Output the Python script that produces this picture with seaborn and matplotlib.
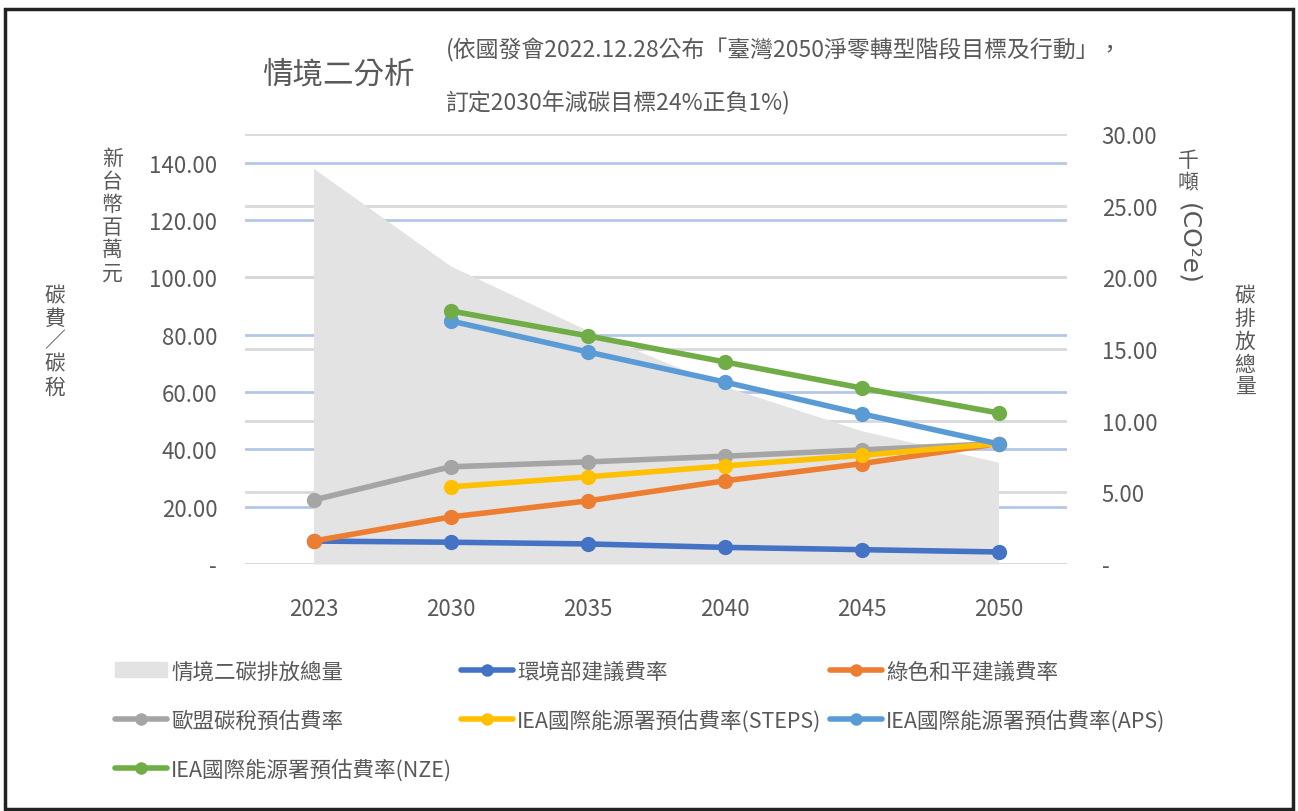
import numpy as np
import pandas as pd
import matplotlib
matplotlib.use("Agg")
import matplotlib.pyplot as plt
import seaborn as sns
from matplotlib.lines import Line2D
from matplotlib.patches import Patch, Rectangle

# data
years = ["2023", "2030", "2035", "2040", "2045", "2050"]
emission = [27.6, 20.8, 16.3, 12.4, 9.3, 7.1]          # 千噸(CO2e), right axis
moenv = [8.0, 7.6, 7.0, 5.8, 5.0, 4.2]                 # 環境部建議費率
greenpeace = [8.0, 16.4, 22.0, 29.0, 35.0, 42.0]        # 綠色和平建議費率
eu_cbam = [22.3, 33.9, 35.6, 37.6, 39.8, 42.0]          # 歐盟碳稅預估費率
iea_steps = [np.nan, 26.9, 30.4, 34.2, 37.9, 42.0]
iea_aps = [np.nan, 84.8, 74.0, 63.5, 52.4, 41.9]
iea_nze = [np.nan, 88.3, 79.6, 70.5, 61.4, 52.7]

series_names = ["環境部建議費率", "綠色和平建議費率", "歐盟碳稅預估費率",
                "IEA國際能源署預估費率(STEPS)", "IEA國際能源署預估費率(APS)",
                "IEA國際能源署預估費率(NZE)"]
series_vals = [moenv, greenpeace, eu_cbam, iea_steps, iea_aps, iea_nze]
colors = ["#4472C4", "#ED7D31", "#A5A5A5", "#FFC000", "#5B9BD5", "#70AD47"]
area_name = "情境二碳排放總量"

rows = []
for name, vals in zip(series_names, series_vals):
    for i, v in enumerate(vals):
        if not np.isnan(v):
            rows.append((i, name, v))
df = pd.DataFrame(rows, columns=["pos", "series", "value"])

sns.set_style("white")
plt.rcParams["font.family"] = ["Noto Sans CJK TC", "DejaVu Sans"]
txt = "#595959"

fig = plt.figure(figsize=(12.98, 8.12), dpi=100)
rect = [245 / 1298, 1 - 565 / 812, (1067 - 245) / 1298, (565 - 135) / 812]

# background axis for the left-scale gridlines
ax_bg = fig.add_axes(rect)
ax_bg.set_ylim(0, 150)
ax_bg.set_xlim(-0.5, 5.5)
ax_bg.set_yticks(range(20, 141, 20))
ax_bg.yaxis.grid(True, color="#B4C7E7", lw=2)
ax_bg.tick_params(left=False, labelleft=False, bottom=False, labelbottom=False)
for s in ax_bg.spines.values():
    s.set_visible(False)

# right axis: emission area
ax2 = fig.add_axes(rect, sharex=ax_bg)
ax2.patch.set_visible(False)
x = np.arange(len(years))
ax2.fill_between(x, emission, color="#E3E3E3", lw=0, zorder=2)
ax2.set_ylim(0, 30)
ax2.yaxis.tick_right()
ax2.set_yticks(np.arange(0, 31, 5))
ax2.set_yticklabels(["-"] + [f"{v:.2f}" for v in np.arange(5, 31, 5)])
ax2.yaxis.grid(True, color="#D9D9D9", lw=2, zorder=0)
ax2.set_axisbelow(True)
ax2.tick_params(axis="y", length=0, pad=25, labelsize=16, labelcolor=txt)
ax2.tick_params(axis="x", bottom=False, labelbottom=False)
for s in ax2.spines.values():
    s.set_visible(False)
ax2.axhline(0, color="#D9D9D9", lw=2, zorder=1)

# left axis: carbon fee lines
ax = fig.add_axes(rect, sharex=ax_bg)
ax.patch.set_visible(False)
sns.lineplot(data=df, x="pos", y="value", hue="series", hue_order=series_names,
             palette=colors, marker="o", markersize=11, markeredgewidth=0,
             linewidth=4, ax=ax, legend=False)
ax.set_ylim(0, 150)
ax.set_xlim(-0.5, 5.5)
ax.set_yticks(range(0, 141, 20))
ax.set_yticklabels(["-"] + [f"{v:.2f}" for v in range(20, 141, 20)])
ax.set_xticks(x)
ax.set_xticklabels(years)
ax.set_xlabel("")
ax.set_ylabel("")
ax.tick_params(axis="y", length=0, pad=20, labelsize=16, labelcolor=txt)
ax.tick_params(axis="x", length=0, pad=24, labelsize=16, labelcolor=txt)
for s in ax.spines.values():
    s.set_visible(False)

# titles
fig.text(262 / 1298, 1 - 75 / 812, "情境二分析", fontsize=22, color=txt, va="center")
fig.text(446 / 1298, 1 - 50 / 812,
         "(依國發會2022.12.28公布「臺灣2050淨零轉型階段目標及行動」，",
         fontsize=16.5, color=txt, va="center")
fig.text(446 / 1298, 1 - 103 / 812, "訂定2030年減碳目標24%正負1%)",
         fontsize=16.5, color=txt, va="center")

# axis titles (vertical stacked text)
fig.text(112 / 1298, 1 - 148 / 812, "\n".join("新台幣百萬元"), fontsize=15,
         color=txt, ha="center", va="top", linespacing=1.05)
fig.text(55 / 1298, 1 - 285 / 812, "\n".join("碳費／碳稅"), fontsize=15,
         color=txt, ha="center", va="top", linespacing=1.05)
fig.text(1188 / 1298, 1 - 150 / 812, "\n".join("千噸"), fontsize=15,
         color=txt, ha="center", va="top", linespacing=1.0)
fig.text(1188 / 1298, 1 - 203 / 812, "(CO²e)", fontsize=18, color=txt,
         ha="center", va="top", rotation=-90,
         family=["DejaVu Sans"])
fig.text(1245 / 1298, 1 - 285 / 812, "\n".join("碳排放總量"), fontsize=15,
         color=txt, ha="center", va="top", linespacing=1.05)

# legend
handles = [Patch(color="#E3E3E3")]
for c in colors:
    handles.append(Line2D([], [], color=c, lw=4, marker="o", markersize=9,
                          markeredgewidth=0))
labels = [area_name] + series_names
order = [0, 3, 6, 1, 4, 2, 5]
leg = fig.legend([handles[i] for i in order], [labels[i] for i in order],
                 ncol=3, loc="upper left", bbox_to_anchor=(96 / 1298, 1 - 642 / 812),
                 frameon=False, fontsize=15.5, handlelength=2.4, handletextpad=0.2,
                 columnspacing=0.4, labelspacing=1.25, labelcolor=txt)

fig.add_artist(Rectangle((0.004, 0.002), 0.992, 0.986, transform=fig.transFigure,
                         fill=False, lw=2.5, edgecolor="#222222"))

fig.savefig("out.png", dpi=100)
